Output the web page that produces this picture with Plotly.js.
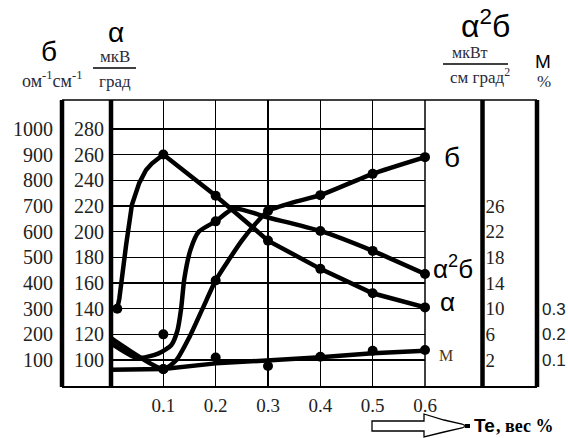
<!DOCTYPE html>
<html>
<head>
<meta charset="utf-8">
<script src="https://cdn.plot.ly/plotly-3.0.1.min.js"></script>
<style>html,body{margin:0;padding:0;background:#fff;}#chart{width:568px;height:438px;}</style>
</head>
<body>
<div id="chart"></div>
<script>
// ---- data ----
const teTicks = [0.1, 0.2, 0.3, 0.4, 0.5, 0.6];
const alphaTicks = [100, 120, 140, 160, 180, 200, 220, 240, 260, 280];
const sigmaTicks = [100, 200, 300, 400, 500, 600, 700, 800, 900, 1000];
const a2sTicks = [2, 6, 10, 14, 18, 22, 26];
const mTicks = [0.1, 0.2, 0.3];

// alpha, мкВ/град
const alphaX = [0.012, 0.1, 0.2, 0.3, 0.4, 0.5, 0.6];
const alphaY = [140, 260, 228, 193, 171, 152, 141];
const alphaCurveX = [0.012, 0.016, 0.029, 0.040, 0.054, 0.067, 0.078, 0.09, 0.1, 0.2, 0.3, 0.4, 0.5, 0.6];
const alphaCurveY = [140, 148, 190, 221, 238, 248, 253, 257, 260, 228, 193, 171, 152, 141];

// sigma, ом^-1 см^-1
const sigmaX = [0.1, 0.2, 0.3, 0.4, 0.5, 0.6];
const sigmaY = [65, 410, 680, 742, 825, 890];
const sigmaCurveX = [0, 0.1, 0.125, 0.15, 0.175, 0.2, 0.225, 0.25, 0.275, 0.3, 0.35, 0.4, 0.5, 0.6];
const sigmaCurveY = [185, 65, 100, 190, 300, 410, 490, 565, 628, 680, 715, 742, 825, 890];

// alpha^2 sigma, мкВт/(см град^2)
const a2sX = [0.1, 0.2, 0.4, 0.5, 0.6];
const a2sY = [6, 23.6, 22.1, 19.0, 15.4];
const a2sCurveX = [0, 0.05, 0.09, 0.115, 0.127, 0.134, 0.14, 0.152, 0.168, 0.2, 0.235, 0.3, 0.4, 0.5, 0.6];
const a2sCurveY = [4.6, 2.3, 3.0, 4.3, 6.6, 10, 14.6, 19.2, 22, 23.6, 25.6, 24.2, 22.1, 19.0, 15.4];

// M, %
const mX = [0.1, 0.2, 0.3, 0.4, 0.5, 0.6];
const mY = [0.064, 0.110, 0.077, 0.113, 0.136, 0.139];
const mCurveX = [0, 0.1, 0.2, 0.3, 0.4, 0.5, 0.6];
const mCurveY = [0.062, 0.065, 0.087, 0.0975, 0.1105, 0.126, 0.136];

// ---- layout helpers (pixel -> paper) ----
const W = 568, H = 438, T = 100, B = 387;
const PX = p => p / W;
const PY = p => (B - p) / (B - T);

const aRange = [79, 302.5];
const sRange = aRange.map(a => 5 * a - 400);
const qRange = aRange.map(a => 2 + (a - 100) / 5);
const mRange = aRange.map(a => 0.1 + (a - 100) / 200);

const serif = 'Liberation Serif, Times New Roman, serif';
const sans = 'Liberation Sans, Arial, sans-serif';
const txt = '#222';
const unitCol = '#2a2a3a';

function lineTrace(x, y, ax, shape) {
  return {x, y, yaxis: ax, mode: 'lines', line: {color: '#000', width: 4.5, shape: shape, smoothing: 0.6}, hoverinfo: 'skip', showlegend: false};
}
function dotTrace(x, y, ax) {
  return {x, y, yaxis: ax, mode: 'markers', marker: {color: '#000', size: 10}, cliponaxis: false, showlegend: false};
}

const data = [
  lineTrace(alphaCurveX, alphaCurveY, 'y', 'linear'),
  lineTrace(sigmaCurveX, sigmaCurveY, 'y2', 'spline'),
  lineTrace(a2sCurveX, a2sCurveY, 'y3', 'spline'),
  lineTrace(mCurveX, mCurveY, 'y4', 'linear'),
  dotTrace(alphaX, alphaY, 'y'),
  dotTrace(sigmaX, sigmaY, 'y2'),
  dotTrace(a2sX, a2sY, 'y3'),
  dotTrace(mX, mY, 'y4')
];

function vline(px, w) {
  return {type: 'line', xref: 'paper', yref: 'paper', x0: PX(px), x1: PX(px), y0: PY(T), y1: PY(B), line: {color: '#000', width: w}};
}
function hline(px0, px1, py, w) {
  return {type: 'line', xref: 'paper', yref: 'paper', x0: PX(px0), x1: PX(px1), y0: PY(py), y1: PY(py), line: {color: '#000', width: w}};
}
function pathOf(pts) {
  return 'M' + pts.map(p => PX(p[0]).toFixed(5) + ',' + PY(p[1]).toFixed(5)).join(' L') + ' Z';
}

const shapes = [
  hline(62, 537, T, 1.5),
  hline(62, 537, B, 2),
  vline(425, 1.5),
  vline(62, 4.5),
  vline(111, 4.5),
  vline(482.5, 4.5),
  vline(537, 4.5),
  hline(93, 136, 68, 1.3),
  hline(443, 508, 64, 1.3),
  {type: 'path', xref: 'paper', yref: 'paper', line: {color: '#000', width: 1.3}, fillcolor: 'rgba(0,0,0,0)',
   path: pathOf([[372, 421], [424, 421], [424, 414], [444, 420], [462, 424], [466, 426], [462, 428], [444, 432], [424, 437], [424, 431], [372, 431]])},
  {type: 'rect', xref: 'paper', yref: 'paper', x0: PX(465), x1: PX(470), y0: PY(428), y1: PY(424), fillcolor: '#000', line: {width: 0}}
];

function ann(text, px, py, size, family, opts) {
  return Object.assign({text, xref: 'paper', yref: 'paper', x: PX(px), y: PY(py), xanchor: 'center', yanchor: 'middle',
    showarrow: false, font: {size, family, color: '#000'}}, opts || {});
}

const annotations = [
  ann('б', 49, 51, 28, sans),
  ann('ом<sup>-1</sup>см<sup>-1</sup>', 52, 80, 18, serif, {font: {size: 18, family: serif, color: unitCol}}),
  ann('α', 116, 33, 28, sans),
  ann('мкВ', 115, 57, 17, serif, {font: {size: 17, family: serif, color: unitCol}}),
  ann('град', 115, 81, 17, serif, {font: {size: 17, family: serif, color: unitCol}}),
  ann('α<sup>2</sup>б', 485, 24, 32, sans),
  ann('мкВт', 470, 52, 16, serif, {font: {size: 16, family: serif, color: unitCol}}),
  ann('см град<sup>2</sup>', 480, 76, 17, serif, {font: {size: 17, family: serif, color: unitCol}}),
  ann('M', 543, 61, 19, sans),
  ann('%', 544, 81, 17, serif, {font: {size: 17, family: serif, color: unitCol}}),
  ann('б', 452, 157, 28, sans),
  ann('α<sup>2</sup>б', 453, 267, 26, sans),
  ann('α', 448, 302, 26, sans),
  ann('M', 446, 355, 16, serif, {font: {size: 16, family: serif, color: '#4a3520'}}),
  ann('<b>Te</b>', 472, 425, 19, sans, {xanchor: 'left'}),
  ann('<b>, вес %</b>', 494, 426, 18, serif, {xanchor: 'left'})
];

const tickFont = {family: serif, size: 20, color: txt};

const layout = {
  width: W, height: H,
  margin: {l: 0, r: 0, t: T, b: H - B, pad: 0},
  paper_bgcolor: '#fff', plot_bgcolor: '#fff',
  showlegend: false,
  xaxis: {domain: [PX(111), PX(425)], range: [0, 0.6], tickvals: teTicks, ticktext: teTicks.map(v => v.toFixed(1)),
    showgrid: true, gridcolor: '#000', gridwidth: 1.3, zeroline: false, showline: false, ticks: '',
    tickfont: {family: serif, size: 19, color: txt}, ticklabelstandoff: 5, fixedrange: true, automargin: false},
  yaxis: {range: aRange, tickvals: alphaTicks, showgrid: true, gridcolor: '#000', gridwidth: 1.3, zeroline: false,
    showline: false, ticks: '', tickfont: tickFont, ticklabelstandoff: 6, automargin: false},
  yaxis2: {overlaying: 'y', anchor: 'free', position: PX(62), side: 'left', range: sRange, tickvals: sigmaTicks,
    showgrid: false, zeroline: false, showline: false, ticks: '', tickfont: tickFont, ticklabelstandoff: 9, automargin: false},
  yaxis3: {overlaying: 'y', anchor: 'free', position: PX(482.5), side: 'right', range: qRange, tickvals: a2sTicks,
    showgrid: false, zeroline: false, showline: false, ticks: '', tickfont: {family: serif, size: 19, color: txt}, ticklabelstandoff: 2, automargin: false},
  yaxis4: {overlaying: 'y', anchor: 'free', position: PX(537), side: 'right', range: mRange, tickvals: mTicks,
    showgrid: false, zeroline: false, showline: false, ticks: '', tickfont: {family: sans, size: 17, color: txt}, ticklabelstandoff: 4, automargin: false},
  shapes, annotations
};

Plotly.newPlot('chart', data, layout, {displayModeBar: false, staticPlot: true});
</script>
</body>
</html>
